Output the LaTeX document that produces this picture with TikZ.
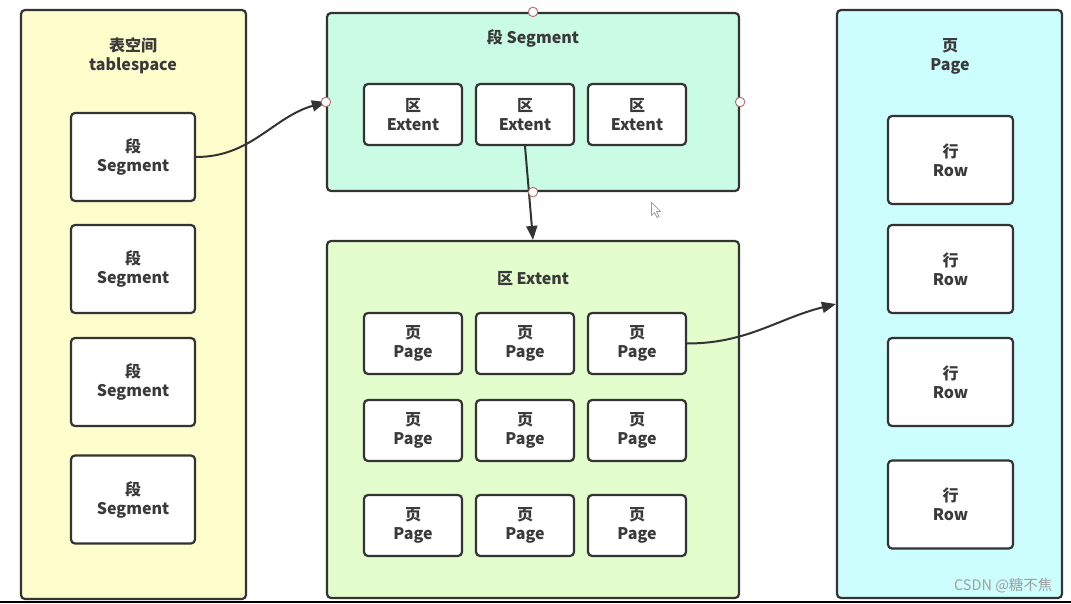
\documentclass[tikz,border=0pt]{standalone}
\usepackage{fontspec}
\setmainfont{Noto Sans CJK SC}
\usetikzlibrary{arrows.meta}
\definecolor{ink}{HTML}{333333}
\definecolor{txt}{HTML}{3A3A3A}
\definecolor{yel}{HTML}{FEFDCC}
\definecolor{mint}{HTML}{CAFBE4}
\definecolor{lgreen}{HTML}{E3FDCD}
\definecolor{lcyan}{HTML}{CCFEFE}
\definecolor{hcol}{HTML}{B86A6A}
\tikzset{
  bigbox/.style={draw=ink, line width=2.2pt, rounded corners=4pt, inner sep=0pt},
  smallbox/.style={draw=ink, fill=white, line width=2.2pt, rounded corners=4pt, align=center, inner sep=0pt,
    font=\bfseries\fontsize{16}{19}\selectfont, text=txt,
    execute at begin node={\rule{0pt}{17.5pt}}},
  segbox/.style={smallbox, minimum width=124pt, minimum height=88pt},
  rowbox/.style={smallbox, minimum width=125pt, minimum height=88pt},
  tinybox/.style={smallbox, minimum width=98pt, minimum height=61pt},
  ttl/.style={align=center, font=\bfseries\fontsize{16}{19}\selectfont, text=txt},
  conn/.style={draw=ink, line width=2pt, -{Triangle[length=14pt,width=11pt]}},
  handle/.style={circle, draw=hcol, fill=white, line width=0.9pt, minimum size=9.5pt, inner sep=0pt},
  wmark/.style={font=\fontsize{14.5}{16}\selectfont, text=gray!75}
}
\begin{document}
\begin{tikzpicture}[x=1pt,y=-1pt]
\useasboundingbox (0,0) rectangle (1071,604);
\fill[white] (0,0) rectangle (1071,604);

% big containers
\node[bigbox, fill=yel, minimum width=225pt, minimum height=589pt] (ts) at (133.5,304.5) {};
\node[bigbox, fill=mint, minimum width=412pt, minimum height=178pt] (seg) at (533,102) {};
\node[bigbox, fill=lgreen, minimum width=412pt, minimum height=357pt] (ext) at (533,419.5) {};
\node[bigbox, fill=lcyan, minimum width=225pt, minimum height=588pt] (pg) at (949.5,304) {};

% titles
\node[ttl] (tsT) at (133,56) {表空间\\tablespace};
\node[ttl] (segT) at (533,38) {段 Segment};
\node[ttl] (extT) at (533,278) {区 Extent};
\node[ttl] (pgT) at (950,56) {页\\Page};

% tablespace segments
\node[segbox] (s1) at (133,157) {段\\Segment};
\node[segbox] (s2) at (133,269) {段\\Segment};
\node[segbox] (s3) at (133,382) {段\\Segment};
\node[segbox] (s4) at (133,499.5) {段\\Segment};

% extents
\node[tinybox] (e1) at (413,114.5) {区\\Extent};
\node[tinybox] (e2) at (525,114.5) {区\\Extent};
\node[tinybox] (e3) at (637,114.5) {区\\Extent};

% pages
\node[tinybox] (p11) at (413,343.5) {页\\Page};
\node[tinybox] (p12) at (525,343.5) {页\\Page};
\node[tinybox] (p13) at (637,343.5) {页\\Page};
\node[tinybox] (p21) at (413,430.5) {页\\Page};
\node[tinybox] (p22) at (525,430.5) {页\\Page};
\node[tinybox] (p23) at (637,430.5) {页\\Page};
\node[tinybox] (p31) at (413,525.5) {页\\Page};
\node[tinybox] (p32) at (525,525.5) {页\\Page};
\node[tinybox] (p33) at (637,525.5) {页\\Page};

% rows
\node[rowbox] (r1) at (950.5,160) {行\\Row};
\node[rowbox] (r2) at (950.5,269) {行\\Row};
\node[rowbox] (r3) at (950.5,382) {行\\Row};
\node[rowbox] (r4) at (950.5,504.5) {行\\Row};

% connectors
\draw[conn] (s1.east) to[out=0,in=196] (seg.west);
\draw[conn] (e2.south) -- (ext.north);
\draw[conn] (p13.east) to[out=0,in=194] (pg.west);

% selection handles
\node[handle] (h1) at (seg.north) {};
\node[handle] (h2) at (seg.west) {};
\node[handle] (h3) at (seg.east) {};
\node[handle] (h4) at (seg.south) {};

% mouse cursor
\draw[fill=white, draw=gray!80, line width=0.7pt, line join=round]
  (651.5,202.5) -- (651.5,215.5) -- (654.5,212.5) -- (657,217.5) -- (659,216.5) -- (656.5,211.5) -- (660.5,211.5) -- cycle;

% watermark
\node[wmark, anchor=east] (wm) at (1056,586) {CSDN @糖不焦};

% bottom edge line
\draw[line width=2pt, black] (0,601.5) -- (1071,601.5);
\end{tikzpicture}
\end{document}
